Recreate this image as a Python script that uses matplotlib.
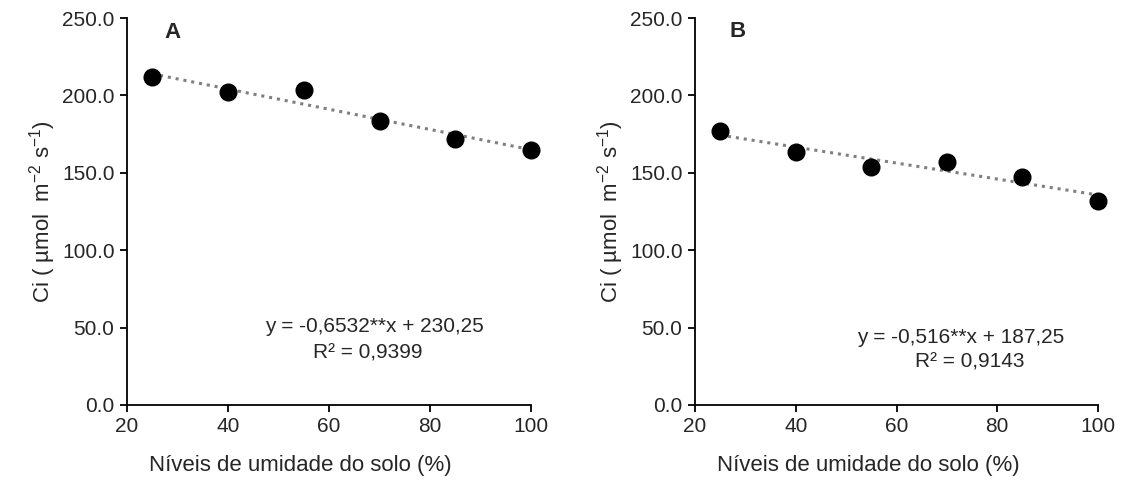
import matplotlib
matplotlib.use("Agg")
from matplotlib import pyplot as plt
import numpy as np

plt.rcParams['font.family'] = ['Liberation Sans', 'DejaVu Sans']
plt.rcParams['mathtext.fontset'] = 'custom'
plt.rcParams['mathtext.rm'] = 'Liberation Sans'
plt.rcParams['mathtext.it'] = 'Liberation Sans'

# soil moisture levels (%)
umidade = [25, 40, 55, 70, 85, 100]

# Ci values
ci_a = [212.0, 202.0, 203.5, 183.5, 172.0, 164.5]
ci_b = [177.0, 163.5, 154.0, 157.0, 147.0, 132.0]

# fitted lines given in the chart
coef_a = (-0.6532, 230.25)
coef_b = (-0.516, 187.25)

eq_a = "y = -0,6532**x + 230,25"
r2_a = "R² = 0,9399"
eq_b = "y = -0,516**x + 187,25"
r2_b = "R² = 0,9143"

txt_color = '#262626'

fig = plt.figure(figsize=(11.28, 4.87), dpi=100)
ax_a = fig.add_axes([127 / 1128, 82 / 487, 404 / 1128, 387 / 487])
ax_b = fig.add_axes([695 / 1128, 82 / 487, 403 / 1128, 387 / 487])

panels = [
	(ax_a, ci_a, coef_a, eq_a, r2_a, "A", (29.1, 240.5), (68.9, 50.4), (67.7, 33.6)),
	(ax_b, ci_b, coef_b, eq_b, r2_b, "B", (28.5, 241.0), (72.8, 43.9), (74.6, 27.8)),
]

for ax, ci, coef, eq, r2, letra, pos_letra, pos_eq, pos_r2 in panels:

	# trend line
	xs = np.array([umidade[0], umidade[-1]])
	ax.plot(xs, coef[0] * xs + coef[1], linestyle=(0, (1, 1.6)), color='#7f7f7f',
			linewidth=2.2, zorder=1)

	ax.plot(umidade, ci, 'o', color='black', markersize=12, zorder=2, clip_on=False)

	ax.set_xlim(20, 100)
	ax.set_ylim(0, 250)
	ax.set_xticks([20, 40, 60, 80, 100])
	ax.set_yticks([0, 50, 100, 150, 200, 250])
	ax.set_yticklabels(["{:.1f}".format(v) for v in ax.get_yticks()])

	for s in ['top', 'right']:
		ax.spines[s].set_visible(False)
	for s in ['left', 'bottom']:
		ax.spines[s].set_linewidth(1.3)
	ax.tick_params(direction='out', length=5, width=1.3, labelsize=15, colors='black',
				   labelcolor=txt_color, pad=4)

	ax.set_xlabel("Níveis de umidade do solo (%)", fontsize=16, color=txt_color, labelpad=14)
	ax.xaxis.set_label_coords(0.43, -0.13)
	ax.set_ylabel(r"Ci ( µmol  m$^{-2}$ s$^{-1}$)", fontsize=16, color=txt_color, labelpad=2.5)

	ax.text(pos_letra[0], pos_letra[1], letra, fontsize=16, fontweight='bold',
			ha='center', va='center', color=txt_color)
	ax.text(pos_eq[0], pos_eq[1], eq, fontsize=15, ha='center', va='center', color=txt_color)
	ax.text(pos_r2[0], pos_r2[1], r2, fontsize=15, ha='center', va='center', color=txt_color)

fig.savefig("out.png", dpi=100)
